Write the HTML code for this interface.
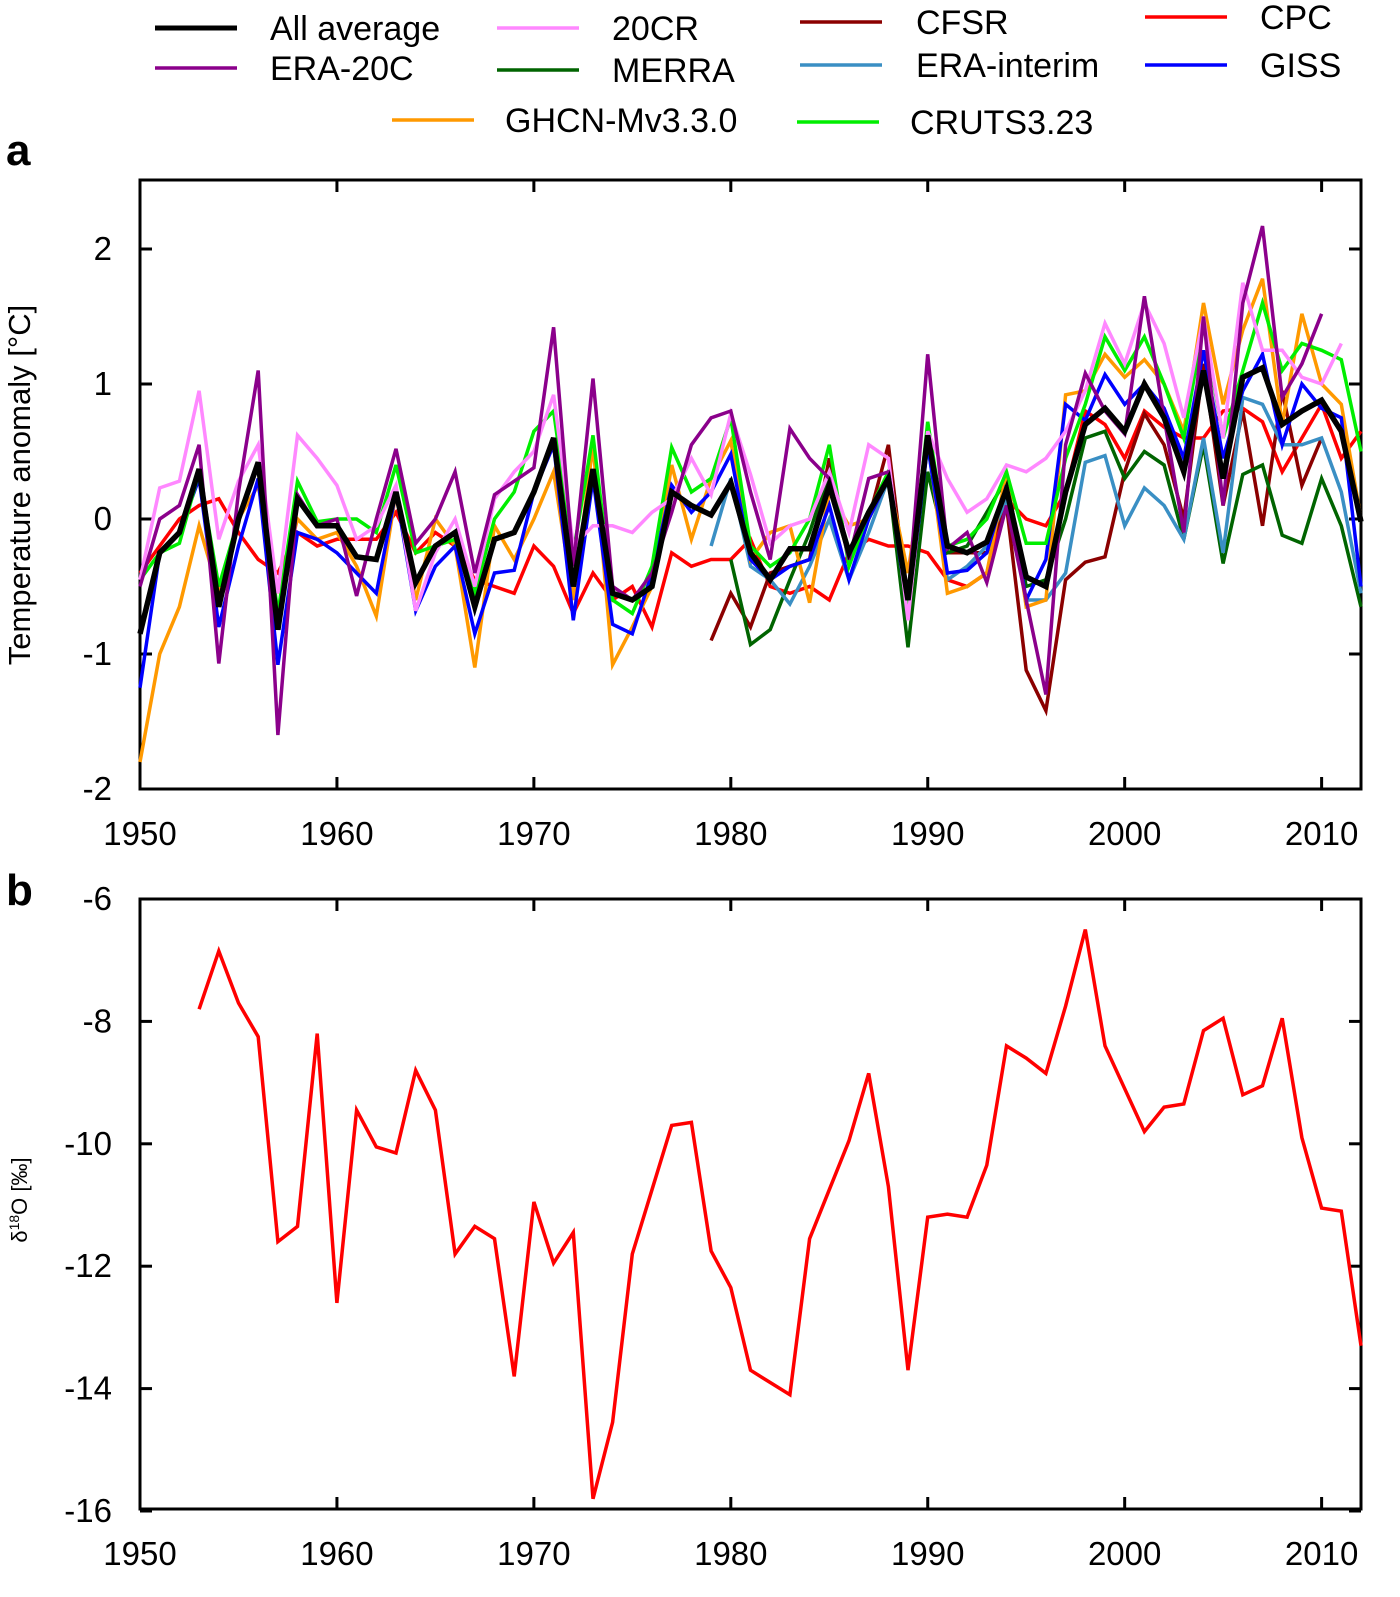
<!DOCTYPE html>
<html><head><meta charset="utf-8">
<style>
html,body{margin:0;background:#fff;overflow:hidden;width:1400px;height:1597px;}
svg{display:block;font-family:"Liberation Sans",sans-serif;}
</style></head>
<body>
<svg id="c" width="1400" height="1597" viewBox="0 0 1400 1597"></svg>
<script>
const years0 = 1950;
const avgVals = [-0.85,-0.25,-0.1,0.37,-0.65,0.0,0.42,-0.82,0.15,-0.05,-0.05,-0.28,-0.3,0.2,-0.47,-0.2,-0.1,-0.65,-0.15,-0.1,0.2,0.6,-0.5,0.37,-0.55,-0.6,-0.5,0.2,0.1,0.03,0.27,-0.25,-0.45,-0.22,-0.22,0.25,-0.25,0.05,0.3,-0.6,0.62,-0.2,-0.25,-0.17,0.22,-0.43,-0.5,0.2,0.7,0.82,0.65,1.0,0.75,0.35,1.1,0.3,1.05,1.12,0.7,0.8,0.88,0.65,-0.02];
const era20cVals = [-0.5,0.0,0.1,0.55,-1.07,0.2,1.1,-1.6,0.18,-0.05,0.0,-0.57,0.0,0.52,-0.18,0.0,0.35,-0.4,0.18,0.28,0.38,1.42,-0.35,1.04,-0.5,-0.6,-0.4,0.05,0.55,0.75,0.8,0.2,-0.3,0.67,0.45,0.3,-0.3,0.3,0.35,-0.6,1.22,-0.22,-0.1,-0.47,0.1,-0.6,-1.3,0.55,1.08,0.8,0.63,1.65,0.75,-0.1,1.5,0.1,1.6,2.17,0.9,1.15,1.52,null,null];
const cr20Vals = [-0.45,0.23,0.28,0.95,-0.15,0.28,0.55,-0.55,0.62,0.45,0.25,-0.15,-0.05,0.25,-0.68,-0.25,0.0,-0.5,0.15,0.35,0.5,0.92,-0.2,-0.05,-0.05,-0.1,0.05,0.15,0.45,0.18,0.78,0.33,-0.18,-0.05,0.0,0.35,-0.1,0.55,0.45,-0.75,0.65,0.3,0.05,0.15,0.4,0.35,0.45,0.65,0.95,1.45,1.15,1.6,1.3,0.75,1.5,0.6,1.75,1.25,1.25,1.05,1.0,1.3,null];
const cfsrVals = [null,null,null,null,null,null,null,null,null,null,null,null,null,null,null,null,null,null,null,null,null,null,null,null,null,null,null,null,null,-0.9,-0.55,-0.8,-0.4,-0.35,-0.3,0.45,-0.3,0.0,0.55,-0.65,0.65,-0.25,-0.25,-0.25,0.1,-1.12,-1.42,-0.45,-0.32,-0.28,0.35,0.78,0.55,0.0,1.15,0.1,0.8,-0.05,0.95,0.25,0.6,null,null];
const merraVals = [null,null,null,null,null,null,null,null,null,null,null,null,null,null,null,null,null,null,null,null,null,null,null,null,null,null,null,null,null,null,-0.3,-0.93,-0.82,-0.45,-0.1,0.35,-0.3,0.0,0.3,-0.95,0.35,-0.25,-0.2,0.05,0.3,-0.5,-0.45,0.0,0.6,0.65,0.3,0.5,0.4,-0.15,0.55,-0.33,0.33,0.4,-0.12,-0.18,0.3,-0.05,-0.65];
const eraiVals = [null,null,null,null,null,null,null,null,null,null,null,null,null,null,null,null,null,null,null,null,null,null,null,null,null,null,null,null,null,-0.2,0.3,-0.35,-0.45,-0.63,-0.35,0.0,-0.45,-0.1,0.3,-0.6,0.55,-0.45,-0.35,-0.2,0.15,-0.6,-0.6,-0.4,0.42,0.47,-0.05,0.23,0.1,-0.15,0.6,-0.25,0.9,0.85,0.55,0.55,0.6,0.2,-0.55];
const cpcVals = [-0.4,-0.2,0.0,0.1,0.15,-0.1,-0.3,-0.4,-0.1,-0.2,-0.15,-0.15,-0.15,0.05,-0.25,-0.1,-0.2,-0.45,-0.5,-0.55,-0.2,-0.35,-0.7,-0.4,-0.6,-0.5,-0.8,-0.25,-0.35,-0.3,-0.3,-0.15,-0.5,-0.55,-0.5,-0.6,-0.25,-0.15,-0.2,-0.2,-0.25,-0.45,-0.5,-0.4,0.15,0.0,-0.05,0.2,0.8,0.7,0.45,0.8,0.68,0.6,0.6,0.8,0.82,0.72,0.35,0.6,0.85,0.45,0.65];
const gissVals = [-1.25,-0.25,-0.1,0.3,-0.8,-0.2,0.3,-1.08,-0.1,-0.15,-0.25,-0.4,-0.55,0.2,-0.68,-0.35,-0.2,-0.85,-0.4,-0.38,0.2,0.55,-0.75,0.3,-0.78,-0.85,-0.4,0.25,0.05,0.2,0.48,-0.3,-0.45,-0.35,-0.3,0.1,-0.45,0.0,0.3,-0.7,0.55,-0.4,-0.38,-0.25,0.25,-0.6,-0.3,0.85,0.73,1.07,0.85,1.0,0.82,0.45,1.25,0.45,0.95,1.22,0.55,1.0,0.82,0.75,-0.5];
const ghcnVals = [-1.8,-1.0,-0.65,-0.05,-0.55,0.0,0.25,-0.55,0.0,-0.15,-0.1,-0.35,-0.72,0.2,-0.6,0.0,-0.2,-1.1,-0.05,-0.3,0.0,0.35,-0.6,0.55,-1.08,-0.8,-0.5,0.4,-0.15,0.3,0.58,-0.3,-0.1,-0.05,-0.62,0.2,-0.05,0.0,0.3,-0.4,0.6,-0.55,-0.5,-0.4,0.35,-0.65,-0.6,0.92,0.95,1.22,1.05,1.18,1.0,0.65,1.6,0.85,1.4,1.78,0.7,1.52,1.0,0.85,0.0];
const crutsVals = [-0.45,-0.25,-0.18,0.35,-0.5,0.0,0.4,-0.7,0.28,-0.02,0.0,0.0,-0.1,0.4,-0.25,-0.2,-0.15,-0.55,0.0,0.2,0.65,0.8,-0.25,0.62,-0.6,-0.7,-0.35,0.53,0.2,0.3,0.75,-0.2,-0.35,-0.25,0.0,0.55,-0.35,0.05,0.35,-0.65,0.72,-0.2,-0.15,0.0,0.35,-0.18,-0.18,0.45,0.85,1.35,1.1,1.35,1.0,0.6,1.45,0.6,1.1,1.6,1.1,1.3,1.25,1.18,0.5];
const d18oStart = 1953;
const d18oVals = [-7.8,-6.85,-7.7,-8.25,-11.6,-11.35,-8.2,-12.6,-9.45,-10.05,-10.15,-8.8,-9.45,-11.8,-11.35,-11.55,-13.8,-10.95,-11.95,-11.45,-15.8,-14.55,-11.8,-10.75,-9.7,-9.65,-11.75,-12.35,-13.7,-13.9,-14.1,-11.55,-10.75,-9.95,-8.85,-10.7,-13.7,-11.2,-11.15,-11.2,-10.35,-8.4,-8.6,-8.85,-7.75,-6.5,-8.4,-9.1,-9.8,-9.4,-9.35,-8.15,-7.95,-9.2,-9.05,-7.95,-9.9,-11.05,-11.1,-13.3];
const xTicks = [1950,1960,1970,1980,1990,2000,2010];
const yTicksA = [-2,-1,0,1,2];
const yTicksB = [-6,-8,-10,-12,-14,-16];

const svg = document.getElementById('c');
const NS='http://www.w3.org/2000/svg';
function mk(tag, attrs, parent){const e=document.createElementNS(NS,tag);for(const k in attrs)e.setAttribute(k,attrs[k]);(parent||svg).appendChild(e);return e;}
const X0=140, X1=1361;
const xs = y => X0 + (y-1950)*(X1-X0)/62;
const yA = v => 519 - v*135;
const yB = v => 899 + (-6 - v)*61.2;

const fa = mk('rect',{x:X0,y:180,width:X1-X0,height:609,fill:'none',stroke:'#000','stroke-width':3});


const fb = mk('rect',{x:X0,y:899,width:X1-X0,height:610,fill:'none',stroke:'#000','stroke-width':3});



function ticks(top,bot,labelY,name){
  xTicks.forEach(t=>{
    const x=xs(t);
    mk('line',{x1:x,y1:bot,x2:x,y2:bot-12,stroke:'#000','stroke-width':3});
    mk('line',{x1:x,y1:top,x2:x,y2:top+12,stroke:'#000','stroke-width':3});
    const tx=mk('text',{x:x,y:labelY,'font-size':33,'text-anchor':'middle'});
    tx.textContent=t;
    
    
  });
}
ticks(180,789,845,'panel-a');
ticks(899,1509,1565,'panel-b');
yTicksA.forEach(v=>{
  const y=yA(v);
  mk('line',{x1:X0,y1:y,x2:X0+12,y2:y,stroke:'#000','stroke-width':3});
  mk('line',{x1:X1,y1:y,x2:X1-12,y2:y,stroke:'#000','stroke-width':3});
  const t=mk('text',{x:112,y:y+11,'font-size':33,'text-anchor':'end'});
  t.textContent=v;
  
  
});
yTicksB.forEach(v=>{
  const y=yB(v);
  mk('line',{x1:X0,y1:y,x2:X0+12,y2:y,stroke:'#000','stroke-width':3});
  mk('line',{x1:X1,y1:y,x2:X1-12,y2:y,stroke:'#000','stroke-width':3});
  const t=mk('text',{x:112,y:y+11,'font-size':33,'text-anchor':'end'});
  t.textContent=v;
  
  
});

function series(vals,start,yf,color,w,name){
  let d='',pen=false;
  vals.forEach((v,i)=>{
    if(v===null){pen=false;return;}
    d+=(pen?'L':'M')+xs(start+i).toFixed(1)+' '+yf(v).toFixed(1)+' ';
    pen=true;
  });
  const p=mk('path',{d:d,fill:'none',stroke:color,'stroke-width':w,'stroke-linejoin':'miter'});
  
  
}
series(cpcVals,1950,yA,'#ff0000',3.5,'series-cpc');
series(cfsrVals,1950,yA,'#8b0000',3.5,'series-cfsr');
series(merraVals,1950,yA,'#006400',3.5,'series-merra');
series(eraiVals,1950,yA,'#3a8fc4',3.5,'series-era-interim');
series(ghcnVals,1950,yA,'#ff9900',3.5,'series-ghcn');
series(gissVals,1950,yA,'#0000ff',3.5,'series-giss');
series(crutsVals,1950,yA,'#00ee00',3.5,'series-cruts');
series(cr20Vals,1950,yA,'#ff88ff',3.5,'series-20cr');
series(era20cVals,1950,yA,'#8b008b',3.5,'series-era-20c');
series(avgVals,1950,yA,'#000000',5.5,'series-all-average');
series(d18oVals,d18oStart,yB,'#ff0000',3.5,'series-d18o');

const leg=[
 ['All average','#000',155,28,270,40,5],['20CR','#ff88ff',497,28,612,40,3.5],['CFSR','#8b0000',800,22,916,34,3.5],['CPC','#ff0000',1145,17,1260,29,3.5],
 ['ERA-20C','#8b008b',155,68,270,80,3.5],['MERRA','#006400',497,70,612,82,3.5],['ERA-interim','#3a8fc4',800,65,916,77,3.5],['GISS','#0000ff',1145,65,1260,77,3.5],
 ['GHCN-Mv3.3.0','#ff9900',392,120,505,132,3.5],['CRUTS3.23','#00ee00',797,122,910,134,3.5]
];
leg.forEach(l=>{
  const g=mk('g',{});
  
  
  mk('line',{x1:l[2],y1:l[3],x2:l[2]+82,y2:l[3],stroke:l[1],'stroke-width':l[6]},g);
  const t=mk('text',{x:l[4],y:l[5],'font-size':34},g);
  t.textContent=l[0];
});
</script>
<svg style="position:absolute;left:0;top:0" width="1400" height="1597">
  <text x="6" y="165" font-size="44" font-weight="bold" font-family="Liberation Sans,sans-serif">a</text>
  <text x="6" y="905" font-size="44" font-weight="bold" font-family="Liberation Sans,sans-serif">b</text>
  <text transform="translate(30,485) rotate(-90)" text-anchor="middle" font-size="31" font-family="Liberation Sans,sans-serif">Temperature anomaly [°C]</text>
  <text transform="translate(27,1200) rotate(-90)" text-anchor="middle" font-size="22" font-family="Liberation Sans,sans-serif">δ<tspan font-size="14" dy="-8">18</tspan><tspan dy="8">O [‰]</tspan></text>
</svg>
</body></html>
